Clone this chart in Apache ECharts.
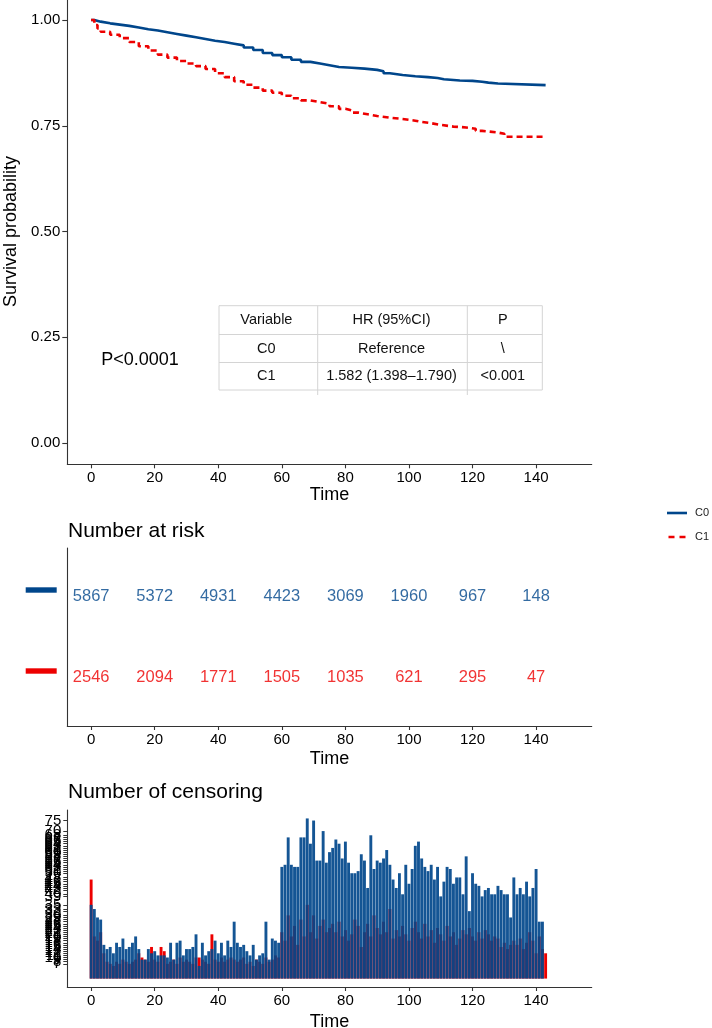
<!DOCTYPE html>
<html>
<head>
<meta charset="utf-8">
<script src="https://cdn.jsdelivr.net/npm/echarts@6/dist/echarts.min.js"></script>
<style>
html,body{margin:0;padding:0;background:#fff;}
#chart{width:712px;height:1028px;}
</style>
</head>
<body>
<div id="chart"></div>
<script>
// ---------------- DATA ----------------
const groups = ['C0', 'C1'];
const colors = ['#00468B', '#ED0000'];

// Kaplan-Meier survival estimates (time, probability)
const survTimesC0 = [0, 1, 3, 6, 9, 12, 15, 18, 21, 24, 27, 30, 33, 36, 39, 42, 45, 48, 51, 54, 57, 60, 63, 66, 69, 72, 75, 78, 82, 86, 90, 92, 94, 98, 102, 106, 109, 111, 116, 120, 123, 125, 128, 143];
const survC0 = [1.000, 0.996, 0.992, 0.989, 0.986, 0.982, 0.978, 0.975, 0.971, 0.967, 0.963, 0.959, 0.955, 0.951, 0.948, 0.944, 0.940, 0.935, 0.929, 0.922, 0.917, 0.912, 0.906, 0.901, 0.897, 0.893, 0.889, 0.887, 0.885, 0.882, 0.879, 0.874, 0.870, 0.867, 0.865, 0.863, 0.860, 0.857, 0.856, 0.854, 0.852, 0.850, 0.846, 0.846];
const survTimesC1 = [0, 1, 2, 3, 6, 9, 12, 15, 18, 21, 24, 27, 30, 33, 36, 39, 42, 45, 48, 51, 54, 57, 60, 63, 66, 69, 72, 75, 78, 80, 82, 84, 87, 90, 94, 98, 100, 102, 104, 107, 110, 114, 118, 121, 123, 128, 130, 143];
const survC1 = [1.000, 0.988, 0.980, 0.972, 0.965, 0.957, 0.948, 0.938, 0.928, 0.918, 0.911, 0.903, 0.897, 0.891, 0.884, 0.874, 0.865, 0.855, 0.847, 0.840, 0.833, 0.828, 0.821, 0.815, 0.810, 0.806, 0.802, 0.796, 0.790, 0.786, 0.781, 0.777, 0.773, 0.769, 0.766, 0.764, 0.762, 0.759, 0.756, 0.752, 0.748, 0.746, 0.743, 0.738, 0.734, 0.731, 0.724, 0.724];

// Number at risk
const riskTimes = [0, 20, 40, 60, 80, 100, 120, 140];
const riskC0 = [5867, 5372, 4931, 4423, 3069, 1960, 967, 148];
const riskC1 = [2546, 2094, 1771, 1505, 1035, 621, 295, 47];

// Number of censored subjects at each time 0..143
const censorC0 = [
  35,33,29,28,16,14,15,12,17,15,
  19,14,15,17,20,14,9,9,14,12,
  13,11,11,11,10,17,9,17,18,11,
  14,14,15,21,6,17,11,13,14,18,
  12,17,11,18,15,27,17,15,16,13,
  11,16,9,11,12,27,9,19,18,17,
  53,54,67,54,53,53,67,67,76,64,
  75,56,56,70,55,60,62,66,64,57,
  65,55,50,50,51,59,56,43,68,52,
  56,55,57,61,54,47,43,50,40,54,
  45,52,63,65,57,53,51,54,47,53,
  39,46,53,52,45,48,48,40,58,32,
  50,45,44,39,42,43,40,40,44,42,
  40,40,29,48,40,43,40,46,39,43,
  52,27,27,0];
const censorC1 = [
  47,20,18,22,12,8,7,6,8,7,
  9,8,7,8,9,12,10,9,8,15,
  9,8,15,13,7,8,9,7,10,8,
  9,8,7,10,10,9,8,7,21,9,
  8,10,8,9,10,9,8,9,10,7,
  8,6,9,8,7,10,8,9,11,10,
  22,18,30,20,25,16,28,20,35,22,
  30,19,25,28,22,24,26,22,27,20,
  23,18,21,28,25,15,22,26,20,30,
  24,21,27,22,33,19,23,20,25,21,
  18,24,27,22,19,26,20,23,17,24,
  21,18,25,20,22,16,19,23,21,24,
  20,18,22,19,23,21,18,20,19,15,
  17,14,16,18,16,19,14,17,22,18,
  12,20,14,12];

// Axis ticks
const xTicks = [0, 20, 40, 60, 80, 100, 120, 140];
const yTicks = [0, 0.25, 0.5, 0.75, 1.0];

// Cox table
const tableHeader = ['Variable', 'HR (95%CI)', 'P'];
const tableRows = [['C0', 'Reference', '\\'], ['C1', '1.582 (1.398\u20131.790)', '<0.001']];
const pText = 'P<0.0001';

// ---------------- CHART ----------------
const FONT = '"Liberation Sans", Arial, sans-serif';
const chart = echarts.init(document.getElementById('chart'), null, {renderer: 'canvas'});

const censorTicks = Array.from(new Set(censorC0.concat(censorC1))).filter(v => v >= 1).sort((a, b) => a - b);

function xAxisDef(gridIndex, gap) {
  return {
    type: 'value', gridIndex: gridIndex, min: -7.5, max: 157.5,
    name: 'Time', nameLocation: 'middle', nameGap: gap,
    nameTextStyle: {fontSize: 18, color: '#000', fontFamily: FONT},
    axisLine: {show: true, onZero: false, lineStyle: {color: '#333', width: 1.1}},
    axisTick: {show: true, length: 4, customValues: xTicks, lineStyle: {color: '#333', width: 1.1}},
    axisLabel: {customValues: xTicks, fontSize: 15, color: '#000', margin: 6, fontFamily: FONT},
    splitLine: {show: false}
  };
}

const km0 = survTimesC0.map((t, i) => [t, survC0[i]]);
const km1 = survTimesC1.map((t, i) => [t, survC1[i]]);

const tbl = {x0: 219, x1: 317.7, x2: 467.3, x3: 542.3, y0: 305.7, y1: 334.5, y2: 362.5, y3: 390};
const tableGraphics = [];
const lineStyle = {stroke: '#d4d4d4', lineWidth: 1};
[[tbl.x0, tbl.y0, tbl.x3, tbl.y0], [tbl.x0, tbl.y1, tbl.x3, tbl.y1], [tbl.x0, tbl.y2, tbl.x3, tbl.y2], [tbl.x0, tbl.y3, tbl.x3, tbl.y3],
 [tbl.x0, tbl.y0, tbl.x0, tbl.y3], [tbl.x3, tbl.y0, tbl.x3, tbl.y3],
 [tbl.x1, tbl.y0, tbl.x1, tbl.y3 + 5], [tbl.x2, tbl.y0, tbl.x2, tbl.y3 + 5]].forEach(l => {
  tableGraphics.push({type: 'line', shape: {x1: l[0], y1: l[1], x2: l[2], y2: l[3]}, style: lineStyle, silent: true});
});
const colCenters = [(tbl.x0 + tbl.x1) / 2 - 2, (tbl.x1 + tbl.x2) / 2 - 1, (tbl.x2 + tbl.x3) / 2 - 2];
const rowCenters = [(tbl.y0 + tbl.y1) / 2, (tbl.y1 + tbl.y2) / 2, (tbl.y2 + tbl.y3) / 2];
[tableHeader].concat(tableRows).forEach((row, r) => {
  row.forEach((txt, c) => {
    tableGraphics.push({type: 'text', x: colCenters[c], y: rowCenters[r],
      style: {text: txt, fontSize: 14.5, fontFamily: FONT, fill: '#111', textAlign: 'center', textVerticalAlign: 'middle'}});
  });
});

const option = {
  animation: false,
  backgroundColor: '#fff',
  textStyle: {fontFamily: FONT},
  grid: [
    {left: 67.3, top: -1.2, width: 524.4, height: 465.5, outerBoundsMode: 'none', containLabel: false},
    {left: 67.3, top: 548, width: 524.4, height: 178, outerBoundsMode: 'none', containLabel: false},
    {left: 67.3, top: 810, width: 524.4, height: 177, outerBoundsMode: 'none', containLabel: false}
  ],
  legend: {
    data: [
      {name: 'C0', icon: 'path://M0,0h20v2.6h-20z'},
      {name: 'C1', icon: 'path://M0,0h6v2.6h-6z M11,0h6v2.6h-6z'}
    ],
    orient: 'vertical', left: 667, top: 507.5, padding: 0, itemWidth: 20, itemHeight: 2.6, itemGap: 13,
    textStyle: {fontSize: 11, color: '#222', fontFamily: FONT, padding: [0, 0, 0, 3]}
  },
  xAxis: [xAxisDef(0, 22), xAxisDef(1, 24), xAxisDef(2, 26)],
  yAxis: [
    {type: 'value', gridIndex: 0, min: -0.05, max: 1.05,
     name: 'Survival probability', nameLocation: 'middle', nameGap: 45, nameRotate: 90,
     nameTextStyle: {fontSize: 18, color: '#000', fontFamily: FONT},
     axisLine: {show: true, onZero: false, lineStyle: {color: '#333', width: 1.1}},
     axisTick: {show: true, length: 5, customValues: yTicks, lineStyle: {color: '#333', width: 1.1}},
     axisLabel: {customValues: yTicks, fontSize: 15, color: '#000', margin: 7, fontFamily: FONT, formatter: v => v.toFixed(2)},
     splitLine: {show: false}},
    {type: 'value', gridIndex: 1, min: 0.4, max: 2.6,
     axisLine: {show: true, onZero: false, lineStyle: {color: '#333', width: 1.1}},
     axisTick: {show: false}, axisLabel: {show: false}, splitLine: {show: false}},
    {type: 'value', gridIndex: 2, min: -4, max: 80,
     axisLine: {show: true, onZero: false, lineStyle: {color: '#333', width: 1.1}},
     axisTick: {show: true, length: 4, customValues: censorTicks, lineStyle: {color: '#333', width: 1}},
     axisLabel: {customValues: censorTicks, fontSize: 15, color: '#000', margin: 6, fontFamily: FONT, hideOverlap: false},
     splitLine: {show: false}}
  ],
  series: [
    {name: 'C0', type: 'line', xAxisIndex: 0, yAxisIndex: 0, step: 'end', data: km0, symbol: 'none',
     lineStyle: {color: colors[0], width: 2.6}, itemStyle: {color: colors[0]}},
    {name: 'C1', type: 'line', xAxisIndex: 0, yAxisIndex: 0, step: 'end', data: km1, symbol: 'none',
     lineStyle: {color: colors[1], width: 2.6, type: [6, 4]}, itemStyle: {color: colors[1]}},
    {name: 'risk C0', type: 'scatter', xAxisIndex: 1, yAxisIndex: 1, symbolSize: 0,
     data: riskTimes.map((t, i) => [t, 2, riskC0[i]]),
     label: {show: true, position: 'inside', formatter: p => String(p.value[2]), color: colors[0], fontSize: 16.5, fontFamily: FONT}},
    {name: 'risk C1', type: 'scatter', xAxisIndex: 1, yAxisIndex: 1, symbolSize: 0,
     data: riskTimes.map((t, i) => [t, 1, riskC1[i]]),
     label: {show: true, position: 'inside', formatter: p => String(p.value[2]), color: colors[1], fontSize: 16.5, fontFamily: FONT}},
    {name: 'censor C1', type: 'bar', xAxisIndex: 2, yAxisIndex: 2, barWidth: 2.9, barGap: '-100%',
     data: censorC1.map((v, i) => [i, v]), itemStyle: {color: colors[1]}},
    {name: 'censor C0', type: 'bar', xAxisIndex: 2, yAxisIndex: 2, barWidth: 2.9, barGap: '-100%',
     data: censorC0.map((v, i) => [i, v]), itemStyle: {color: colors[0], opacity: 0.92}}
  ],
  graphic: [
    {type: 'text', x: 140, y: 360, style: {text: pText, fontSize: 18, fontFamily: FONT, fill: '#000', textAlign: 'center', textVerticalAlign: 'middle'}},
    {type: 'text', x: 68, y: 531, style: {text: 'Number at risk', fontSize: 21, fontFamily: FONT, fill: '#000', textAlign: 'left', textVerticalAlign: 'middle'}},
    {type: 'text', x: 68, y: 792, style: {text: 'Number of censoring', fontSize: 21, fontFamily: FONT, fill: '#000', textAlign: 'left', textVerticalAlign: 'middle'}},
    {type: 'rect', shape: {x: 25.7, y: 587.3, width: 31, height: 5.4}, style: {fill: colors[0]}},
    {type: 'rect', shape: {x: 25.7, y: 668.3, width: 31, height: 5.4}, style: {fill: colors[1]}}
  ].concat(tableGraphics)
};
chart.setOption(option);
</script>
</body>
</html>
